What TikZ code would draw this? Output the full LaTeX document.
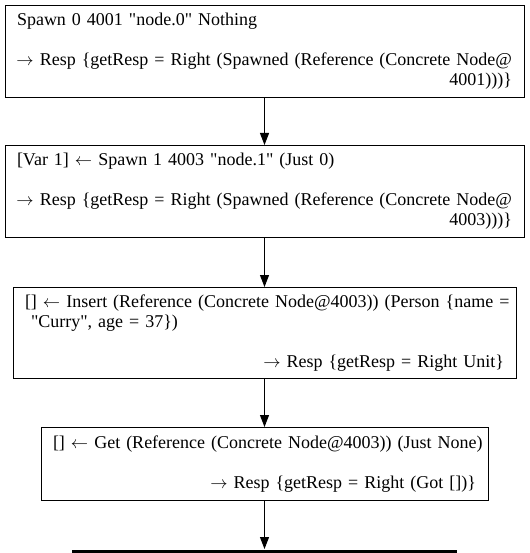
\documentclass[tikz,border=0pt]{standalone}
\usepackage{fontspec}
\setmainfont{Liberation Serif}[Ligatures=TeXOff]
\usetikzlibrary{positioning,arrows.meta}
\newcommand{\lline}[1]{\makebox[\linewidth][l]{#1}}
\newcommand{\rline}[1]{\makebox[\linewidth][r]{#1}}
\newcommand{\toarr}{\ensuremath{\rightarrow}}
\newcommand{\fromarr}{\ensuremath{\leftarrow}}

\begin{document}
\begin{tikzpicture}[->,>={Triangle[length=12pt,width=9pt]},line width=1pt,
  node distance=47pt,
  call/.style={draw,rectangle,inner xsep=12pt,inner ysep=0pt,align=left,
    font=\fontsize{18}{20}\selectfont}]
\useasboundingbox (0,0) rectangle (529pt,-553pt);
\node[call,text width=495pt,minimum height=92pt,anchor=north](spawn0) at (264.5pt,-5pt)
  {\lline{Spawn 0 4001 "node.0" Nothing}\\ \strut\\
   \rline{ \toarr{} Resp \{getResp = Right (Spawned (Reference (Concrete Node@}\\
   \rline{4001)))\}}};
\node[call,text width=495pt,minimum height=92pt,below=of spawn0](spawn1)
  {\lline{[Var 1] \fromarr{} Spawn 1 4003 "node.1" (Just 0)}\\ \strut\\
   \rline{ \toarr{} Resp \{getResp = Right (Spawned (Reference (Concrete Node@}\\
   \rline{4003)))\}}};
\node[call,text width=479pt,minimum height=91pt,below=49pt of spawn1](insert)
  {\lline{[] \fromarr{} Insert (Reference (Concrete Node@4003)) (Person \{name =}\\
   \lline{ "Curry", age = 37\})}\\ \strut\\
   \rline{ \toarr{} Resp \{getResp = Right Unit\}}};
\node[call,text width=423pt,minimum height=73pt,below=48pt of insert](get)
  {\lline{[] \fromarr{} Get (Reference (Concrete Node@4003)) (Just None)}\\ \strut\\
   \rline{ \toarr{} Resp \{getResp = Right (Got [])\}}};
\node[fill,minimum width=385pt,minimum height=3pt,inner sep=0pt,below=48pt of get](stop){};
\draw (spawn0) -- (spawn1);
\draw (spawn1) -- (insert);
\draw (insert) -- (get);
\draw (get) -- (stop);
\end{tikzpicture}
\end{document}
